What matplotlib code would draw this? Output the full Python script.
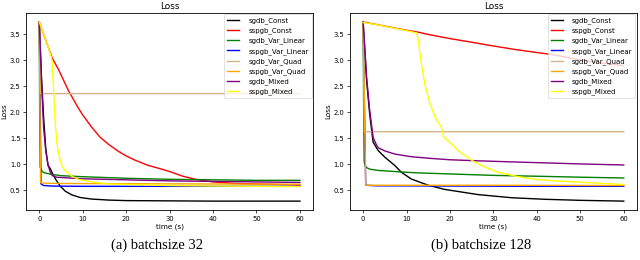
import matplotlib
matplotlib.use("Agg")
import matplotlib.pyplot as plt

# Series names and colours (legend order)
labels = ["sgdb_Const", "sspgb_Const", "sgdb_Var_Linear", "sspgb_Var_Linear",
          "sgdb_Var_Quad", "sspgb_Var_Quad", "sgdb_Mixed", "sspgb_Mixed"]
colors = ["black", "red", "green", "blue", "tan", "orange", "purple", "yellow"]

# ---- batchsize 32 ----
t32_sgdb_const = [0, 0.5, 1, 1.5, 2, 2.5, 3, 3.7, 4.8, 6, 7.5, 9.4, 12, 16, 20, 30, 40, 50, 60]
v32_sgdb_const = [3.74, 2.7, 1.9, 1.3, 0.98, 0.92, 0.83, 0.72, 0.58, 0.48, 0.41, 0.36, 0.33, 0.31, 0.30, 0.295, 0.29, 0.29, 0.29]

t32_sspgb_const = [0, 1, 2, 3, 4.4, 6.7, 9, 10, 12, 14, 16, 18, 20, 22, 25, 28, 30, 33, 36, 40, 45, 50, 55, 60]
v32_sspgb_const = [3.74, 3.5, 3.27, 3.04, 2.83, 2.42, 2.08, 1.95, 1.72, 1.52, 1.38, 1.26, 1.16, 1.08, 0.98, 0.91, 0.86, 0.77, 0.71, 0.66, 0.63, 0.62, 0.61, 0.60]

t32_sgdb_lin = [0, 0.1, 0.2, 0.5, 1, 2.5, 5, 10, 20, 30, 40, 50, 60]
v32_sgdb_lin = [3.74, 1.8, 0.95, 0.88, 0.84, 0.81, 0.78, 0.76, 0.73, 0.71, 0.70, 0.69, 0.69]

t32_sspgb_lin = [0, 0.4, 1, 3, 10, 20, 40, 60]
v32_sspgb_lin = [3.74, 0.62, 0.59, 0.58, 0.575, 0.575, 0.575, 0.575]

t32_sgdb_quad = [0, 0.3, 60]
v32_sgdb_quad = [3.74, 2.36, 2.36]

t32_sspgb_quad = [0, 0.3, 1, 5, 20, 40, 60]
v32_sspgb_quad = [3.74, 0.65, 0.635, 0.63, 0.625, 0.62, 0.615]

t32_sgdb_mixed = [0, 0.5, 1, 1.5, 2, 2.5, 3, 4, 6, 10, 20, 30, 40, 50, 60]
v32_sgdb_mixed = [3.74, 2.6, 1.7, 1.25, 1.0, 0.85, 0.78, 0.75, 0.74, 0.72, 0.70, 0.68, 0.67, 0.66, 0.65]

t32_sspgb_mixed = [0, 1, 2, 2.8, 3.0, 3.3, 3.6, 4, 4.5, 5.2, 6, 7.5, 9, 12, 16, 20, 30, 40, 50, 60]
v32_sspgb_mixed = [3.74, 3.5, 3.27, 3.06, 2.95, 2.4, 1.9, 1.45, 1.18, 0.97, 0.87, 0.77, 0.71, 0.66, 0.62, 0.61, 0.59, 0.58, 0.575, 0.57]

# ---- batchsize 128 ----
t128_sgdb_const = [0, 0.8, 1.5, 2.3, 3.45, 5, 7.3, 8.8, 11.1, 15, 18.8, 26.5, 34.2, 41.9, 50, 60]
v128_sgdb_const = [3.74, 2.62, 1.98, 1.43, 1.27, 1.14, 0.98, 0.85, 0.72, 0.60, 0.52, 0.42, 0.36, 0.33, 0.31, 0.295]

t128_sspgb_const = [0, 5, 10, 12.3, 15, 20, 25, 28.4, 35, 43.7, 50, 55, 60]
v128_sspgb_const = [3.74, 3.66, 3.58, 3.55, 3.50, 3.42, 3.35, 3.30, 3.21, 3.11, 3.01, 2.95, 2.90]

t128_sgdb_lin = [0, 0.15, 0.25, 0.5, 0.8, 1.5, 3.5, 8, 12, 19, 30, 42, 50, 60]
v128_sgdb_lin = [3.74, 1.8, 1.05, 0.97, 0.94, 0.91, 0.885, 0.86, 0.84, 0.82, 0.79, 0.77, 0.755, 0.74]

t128_sspgb_lin = [0, 0.6, 3, 20, 40, 60]
v128_sspgb_lin = [3.74, 0.60, 0.59, 0.585, 0.58, 0.58]

t128_sgdb_quad = [0, 0.3, 60]
v128_sgdb_quad = [3.74, 1.63, 1.63]

t128_sspgb_quad = [0, 0.6, 10, 30, 60]
v128_sspgb_quad = [3.74, 0.60, 0.60, 0.60, 0.595]

t128_sgdb_mixed = [0, 0.8, 1.5, 2.3, 3.1, 3.5, 5, 7.3, 11, 15, 20, 26.5, 34, 42, 50, 60]
v128_sgdb_mixed = [3.74, 2.68, 2.05, 1.52, 1.37, 1.32, 1.26, 1.20, 1.15, 1.12, 1.09, 1.07, 1.05, 1.03, 1.01, 0.99]

t128_sspgb_mixed = [0, 3, 6, 9, 12.3, 12.6, 13.3, 14.2, 15.3, 16.5, 17.5, 18.0, 18.5, 20, 22, 25, 28, 31, 36, 40, 45, 50, 55, 60]
v128_sspgb_mixed = [3.73, 3.69, 3.64, 3.59, 3.53, 3.45, 3.0, 2.54, 2.2, 1.92, 1.78, 1.72, 1.54, 1.42, 1.26, 1.08, 0.95, 0.85, 0.76, 0.71, 0.68, 0.66, 0.635, 0.615]

panels = [
    ("(a) batchsize 32",
     [(t32_sgdb_const, v32_sgdb_const), (t32_sspgb_const, v32_sspgb_const),
      (t32_sgdb_lin, v32_sgdb_lin), (t32_sspgb_lin, v32_sspgb_lin),
      (t32_sgdb_quad, v32_sgdb_quad), (t32_sspgb_quad, v32_sspgb_quad),
      (t32_sgdb_mixed, v32_sgdb_mixed), (t32_sspgb_mixed, v32_sspgb_mixed)]),
    ("(b) batchsize 128",
     [(t128_sgdb_const, v128_sgdb_const), (t128_sspgb_const, v128_sspgb_const),
      (t128_sgdb_lin, v128_sgdb_lin), (t128_sspgb_lin, v128_sspgb_lin),
      (t128_sgdb_quad, v128_sgdb_quad), (t128_sspgb_quad, v128_sspgb_quad),
      (t128_sgdb_mixed, v128_sgdb_mixed), (t128_sspgb_mixed, v128_sspgb_mixed)]),
]

fig = plt.figure(figsize=(6.4, 2.6), dpi=100)
ax_rects = [[0.041, 0.192, 0.448, 0.758], [0.547, 0.192, 0.448, 0.758]]
caption_x = [0.245, 0.752]

for (caption, series), rect, cx in zip(panels, ax_rects, caption_x):
    ax = fig.add_axes(rect)
    for (t, v), lab, col in zip(series, labels, colors):
        ax.plot(t, v, color=col, lw=1.0, label=lab)
    ax.set_title("Loss", fontsize=6.4, pad=3)
    ax.set_xlabel("time (s)", fontsize=5.2, labelpad=1.5)
    ax.set_ylabel("Loss", fontsize=5.2, labelpad=2)
    ax.set_xticks([0, 10, 20, 30, 40, 50, 60])
    ax.set_yticks([0.5, 1.0, 1.5, 2.0, 2.5, 3.0, 3.5])
    ax.tick_params(labelsize=4.9, length=2.2, width=0.5, pad=1.8)
    for sp in ax.spines.values():
        sp.set_linewidth(0.6)
    leg = ax.legend(loc="upper right", fontsize=5.0, borderaxespad=0.2,
                    handlelength=1.8, handletextpad=1.3, labelspacing=0.5)
    leg.get_frame().set_linewidth(0.5)
    fig.text(cx, 0.058, caption, ha="center", va="center",
             fontsize=10.5, family="Liberation Serif")

fig.savefig("out.png", dpi=100)
